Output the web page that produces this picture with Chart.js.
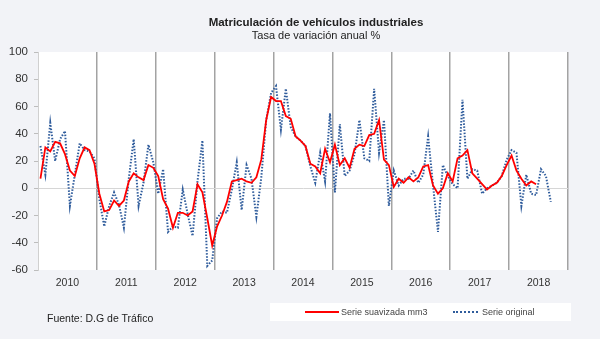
<!DOCTYPE html>
<html>
<head>
<meta charset="utf-8">
<script src="https://cdn.jsdelivr.net/npm/chart.js@4.4.1/dist/chart.umd.min.js"></script>
<style>
  body { margin: 0; background: #f2f3f7; font-family: "Liberation Sans", Arial, sans-serif; }
  #wrap { position: relative; width: 600px; height: 339px; overflow: hidden; }
  #myChart { position: absolute; left: 0; top: 0; }
  .txt { position: absolute; white-space: nowrap; color: #222; }
  #titulo { left: 316px; top: 16px; transform: translateX(-50%); font-size: 11.5px; line-height: 12px; font-weight: bold; }
  #subtitulo { left: 316px; top: 30px; transform: translateX(-50%); font-size: 11px; line-height: 11px; }
  #fuente { left: 47px; top: 312px; font-size: 10.5px; line-height: 12px; }
  #leyenda { position: absolute; left: 270px; top: 303px; width: 301px; height: 18px; background: #fff; }
  .muestra { position: absolute; top: 8px; height: 0; }
  .rotulo { position: absolute; top: 3px; font-size: 9px; line-height: 12px; color: #444; }
</style>
</head>
<body>
<div id="wrap">
  <canvas id="myChart" width="600" height="339"></canvas>
  <div class="txt" id="titulo">Matriculación de vehículos industriales</div>
  <div class="txt" id="subtitulo">Tasa de variación anual %</div>
  <div class="txt" id="fuente">Fuente: D.G de Tráfico</div>
  <div id="leyenda">
    <div class="muestra" style="left:35px;width:34px;border-top:2px solid #ff0000;"></div>
    <div class="rotulo" style="left:71px;">Serie suavizada mm3</div>
    <div class="muestra" style="left:183px;width:25px;border-top:2px dotted #2f5c9c;"></div>
    <div class="rotulo" style="left:212px;">Serie original</div>
  </div>
</div>
<script>
// años del eje horizontal (12 meses cada uno)
var years = ['2010', '2011', '2012', '2013', '2014', '2015', '2016', '2017', '2018'];

// media móvil de 3 meses
var suavizada = [
    7, 30, 27, 34, 33, 25, 13, 9, 22, 30, 28, 18,
    -4, -17, -16, -9, -13, -9, 5, 11, 8, 6, 17, 15,
    9, -8, -15, -29, -18, -18, -20, -17, 3, -3, -22, -42,
    -28, -20, -10, 5, 6, 7, 5, 4, 8, 21, 50, 67,
    64, 64, 53, 51, 38, 35, 31, 18, 16, 11, 29, 19,
    32, 17, 22, 15, 29, 32, 31, 39, 40, 50, 21, 17,
    1, 7, 4, 8, 5, 8, 16, 17, 2, -4, 0, 11,
    5, 22, 24, 28, 11, 7, 3, -1, 2, 4, 9, 17,
    24, 13, 7, 2, 5, 3
];

// tasa mensual sin suavizar
var original = [
    31, 10, 48, 20, 36, 42, -13, 10, 33, 28, 27, 22,
    -8, -28, -13, -3, -12, -29, 7, 36, -13, 4, 32, 19,
    -4, 14, -32, -28, -29, -1, -19, -35, 5, 35, -57, -53,
    -22, -17, -18, -1, 19, -16, 17, 7, -21, 8, 50, 70,
    75, 43, 73, 45, 38, 35, 31, 16, 4, 26, 5, 55,
    -3, 47, 9, 13, 25, 50, 22, 20, 73, 26, 50, -13,
    13, 2, 7, 7, 13, 4, 10, 38, 2, -32, 17, 9,
    3, 0, 65, 7, 14, 13, -4, 0, 2, 4, 9, 21,
    28, 26, -13, 10, -4, -5, 14, 9, -10
];

var yTicks = [-60, -40, -20, 0, 20, 40, 60, 80, 100];

// cada mes se coloca en el centro de su hueco
function toPoints(arr) {
    return arr.map(function(v, i) { return { x: i + 0.5, y: v }; });
}

// fondo blanco solo dentro del área del gráfico
var plotBg = {
    id: 'plotBg',
    beforeDraw: function(chart) {
        var a = chart.chartArea, c = chart.ctx;
        c.save();
        c.fillStyle = '#ffffff';
        c.fillRect(a.left, a.top, a.right - a.left, a.bottom - a.top);
        c.restore();
    }
};

Chart.defaults.font.family = '"Liberation Sans", Arial, sans-serif';

var ctx = document.getElementById('myChart');
var chart = new Chart(ctx, {
    type: 'line',
    data: {
        datasets: [{
            label: 'Serie suavizada mm3',
            data: toPoints(suavizada),
            borderColor: '#ff0000',
            borderWidth: 1.8,
            pointRadius: 0,
            tension: 0
        }, {
            label: 'Serie original',
            data: toPoints(original),
            borderColor: '#2f5c9c',
            borderWidth: 2,
            borderDash: [1.5, 1.6],
            borderCapStyle: 'butt',
            pointRadius: 0,
            tension: 0
        }]
    },
    options: {
        responsive: false,
        animation: false,
        layout: { padding: { left: 0, right: 32, top: 52, bottom: 47 } },
        plugins: {
            legend: { display: false },
            tooltip: { enabled: false }
        },
        scales: {
            // separadores de año
            x: {
                type: 'linear', min: 0, max: 108, position: 'bottom',
                afterBuildTicks: function(s) {
                    var t = [];
                    for (var i = 0; i <= years.length; i++) t.push({ value: i * 12 });
                    s.ticks = t;
                },
                afterFit: function(s) { s.height = 0; },
                ticks: { display: false },
                grid: {
                    color: function(c) { return c.tick && c.tick.value === 0 ? 'rgba(0,0,0,0)' : '#a3a3a3'; },
                    lineWidth: 1.5,
                    drawTicks: false
                },
                border: { display: false }
            },
            // rótulos de año
            anios: {
                type: 'linear', min: 0, max: 108, position: 'bottom',
                afterBuildTicks: function(s) {
                    s.ticks = years.map(function(y, i) { return { value: i * 12 + 6 }; });
                },
                afterFit: function(s) { s.height = 22; },
                ticks: {
                    autoSkip: false, maxRotation: 0, padding: 7,
                    color: '#333', font: { size: 10.5 },
                    callback: function(v) { return years[Math.round((v - 6) / 12)]; }
                },
                grid: { display: false, drawTicks: false },
                border: { display: false }
            },
            y: {
                min: -60, max: 100,
                afterBuildTicks: function(s) {
                    s.ticks = yTicks.map(function(v) { return { value: v }; });
                },
                afterFit: function(s) { s.width = 38; },
                ticks: { color: '#333', font: { size: 11.5 }, padding: 6 },
                grid: {
                    color: function(c) { return c.tick && c.tick.value === 0 ? '#d6d6d6' : 'rgba(0,0,0,0)'; },
                    tickColor: '#bdbdbd',
                    tickLength: 4,
                    lineWidth: 1
                },
                border: { display: true, color: '#d0d0d0' }
            }
        }
    },
    plugins: [plotBg]
});
</script>
</body>
</html>
